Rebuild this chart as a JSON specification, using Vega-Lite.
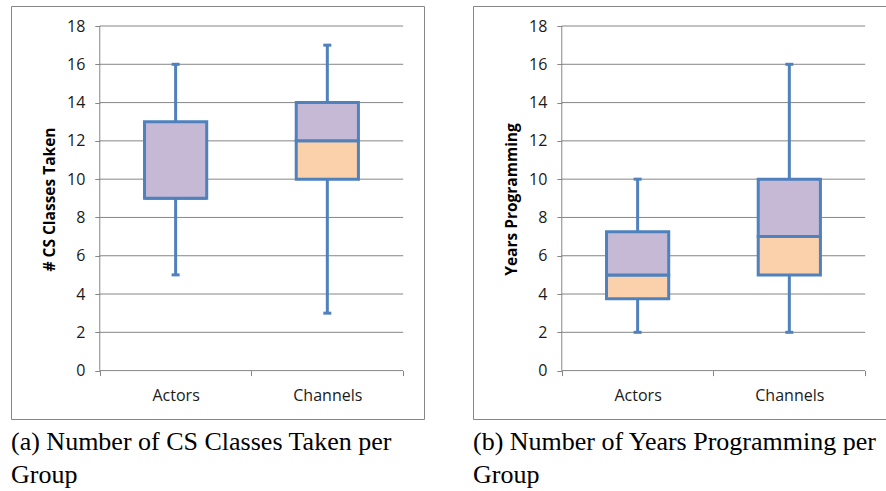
{
  "$schema": "https://vega.github.io/schema/vega-lite/v6.json",
  "padding": {"left": 10, "top": 5, "right": 0, "bottom": 0},
  "background": "white",
  "datasets": {
    "boxes": [
      {"panel": "a", "group": "Actors", "min": 5, "q1": 9, "median": 9, "q3": 13, "max": 16},
      {"panel": "a", "group": "Channels", "min": 3, "q1": 10, "median": 12, "q3": 14, "max": 17},
      {"panel": "b", "group": "Actors", "min": 2, "q1": 3.75, "median": 5, "q3": 7.25, "max": 10},
      {"panel": "b", "group": "Channels", "min": 2, "q1": 5, "median": 7, "q3": 10, "max": 16}
    ],
    "grid": [{"v": 0}, {"v": 2}, {"v": 4}, {"v": 6}, {"v": 8}, {"v": 10}, {"v": 12}, {"v": 14}, {"v": 16}, {"v": 18}]
  },
  "hconcat": [
    {
      "width": 413,
      "height": 413,
      "title": {"text": ["(a) Number of CS Classes Taken per", "Group"]},
      "encoding": {
        "x": {"field": "group", "type": "nominal", "sort": ["Actors", "Channels"],
          "scale": {"type": "band", "domain": ["Actors", "Channels"], "paddingInner": 0, "paddingOuter": 0.3612, "align": 0.81},
          "axis": {"title": null, "orient": "bottom", "offset": -48.4, "tickBand": "extent", "labelAngle": 0, "labelPadding": 12}}
      },
      "layer": [
        {"data": {"name": "grid"}, "mark": {"type": "rule", "color": "#868686", "strokeWidth": 1},
          "encoding": {
            "y": {"field": "v", "type": "quantitative", "scale": {"domain": [-2.528, 19.045], "nice": false, "zero": false},
              "axis": {"title": "# CS Classes Taken", "values": [0, 2, 4, 6, 8, 10, 12, 14, 16, 18], "offset": -88.8, "titleY": 193}},
            "x": {"datum": "Actors", "bandPosition": 0},
            "x2": {"datum": "Channels", "bandPosition": 1}
          }},
        {"data": {"name": "grid"}, "transform": [{"filter": "datum.v == 0"}], "mark": {"type": "rule", "color": "#868686", "strokeWidth": 1},
          "encoding": {
            "x": {"datum": "Actors", "bandPosition": 0},
            "y": {"datum": 0},
            "y2": {"datum": 18}
          }},
        {"data": {"name": "boxes"}, "transform": [{"filter": "datum.panel == 'a'"}],
          "layer": [
            {"mark": {"type": "rule", "color": "#4F81BD", "strokeWidth": 3}, "encoding": {"y": {"field": "min", "type": "quantitative"}, "y2": {"field": "q1"}}},
            {"mark": {"type": "rule", "color": "#4F81BD", "strokeWidth": 3}, "encoding": {"y": {"field": "q3", "type": "quantitative"}, "y2": {"field": "max"}}},
            {"mark": {"type": "tick", "color": "#4F81BD", "thickness": 3, "size": 8, "opacity": 1}, "encoding": {"y": {"field": "min", "type": "quantitative"}}},
            {"mark": {"type": "tick", "color": "#4F81BD", "thickness": 3, "size": 8, "opacity": 1}, "encoding": {"y": {"field": "max", "type": "quantitative"}}},
            {"mark": {"type": "bar", "fill": "#FBD1AB", "stroke": "#4F81BD", "strokeWidth": 3, "width": {"band": 0.41}}, "encoding": {"y": {"field": "q1", "type": "quantitative"}, "y2": {"field": "median"}}},
            {"mark": {"type": "bar", "fill": "#C6B9D5", "stroke": "#4F81BD", "strokeWidth": 3, "width": {"band": 0.41}}, "encoding": {"y": {"field": "median", "type": "quantitative"}, "y2": {"field": "q3"}}}
          ]}
      ]
    },
    {
      "width": 413,
      "height": 413,
      "title": {"text": ["(b) Number of Years Programming per", "Group"]},
      "encoding": {
        "x": {"field": "group", "type": "nominal", "sort": ["Actors", "Channels"],
          "scale": {"type": "band", "domain": ["Actors", "Channels"], "paddingInner": 0, "paddingOuter": 0.3612, "align": 0.81},
          "axis": {"title": null, "orient": "bottom", "offset": -48.4, "tickBand": "extent", "labelAngle": 0, "labelPadding": 12}}
      },
      "layer": [
        {"data": {"name": "grid"}, "mark": {"type": "rule", "color": "#868686", "strokeWidth": 1},
          "encoding": {
            "y": {"field": "v", "type": "quantitative", "scale": {"domain": [-2.528, 19.045], "nice": false, "zero": false},
              "axis": {"title": "Years Programming", "values": [0, 2, 4, 6, 8, 10, 12, 14, 16, 18], "offset": -88.8, "titleY": 193}},
            "x": {"datum": "Actors", "bandPosition": 0},
            "x2": {"datum": "Channels", "bandPosition": 1}
          }},
        {"data": {"name": "grid"}, "transform": [{"filter": "datum.v == 0"}], "mark": {"type": "rule", "color": "#868686", "strokeWidth": 1},
          "encoding": {
            "x": {"datum": "Actors", "bandPosition": 0},
            "y": {"datum": 0},
            "y2": {"datum": 18}
          }},
        {"data": {"name": "boxes"}, "transform": [{"filter": "datum.panel == 'b'"}],
          "layer": [
            {"mark": {"type": "rule", "color": "#4F81BD", "strokeWidth": 3}, "encoding": {"y": {"field": "min", "type": "quantitative"}, "y2": {"field": "q1"}}},
            {"mark": {"type": "rule", "color": "#4F81BD", "strokeWidth": 3}, "encoding": {"y": {"field": "q3", "type": "quantitative"}, "y2": {"field": "max"}}},
            {"mark": {"type": "tick", "color": "#4F81BD", "thickness": 3, "size": 8, "opacity": 1}, "encoding": {"y": {"field": "min", "type": "quantitative"}}},
            {"mark": {"type": "tick", "color": "#4F81BD", "thickness": 3, "size": 8, "opacity": 1}, "encoding": {"y": {"field": "max", "type": "quantitative"}}},
            {"mark": {"type": "bar", "fill": "#FBD1AB", "stroke": "#4F81BD", "strokeWidth": 3, "width": {"band": 0.41}}, "encoding": {"y": {"field": "q1", "type": "quantitative"}, "y2": {"field": "median"}}},
            {"mark": {"type": "bar", "fill": "#C6B9D5", "stroke": "#4F81BD", "strokeWidth": 3, "width": {"band": 0.41}}, "encoding": {"y": {"field": "median", "type": "quantitative"}, "y2": {"field": "q3"}}}
          ]}
      ]
    }
  ],
  "spacing": 47,
  "config": {
    "view": {"stroke": "#868686", "strokeWidth": 1},
    "axis": {
      "domain": false,
      "grid": false,
      "ticks": true,
      "tickColor": "#868686",
      "tickSize": 5,
      "labelFont": "Open Sans",
      "labelFontSize": 16,
      "labelColor": "#1a1a1a",
      "labelPadding": 10,
      "titleFont": "Open Sans",
      "titleFontSize": 15.5,
      "titleFontWeight": "bold",
      "titleColor": "#000000",
      "titlePadding": 9
    },
    "title": {
      "orient": "bottom",
      "anchor": "start",
      "font": "Liberation Serif",
      "fontSize": 26,
      "fontWeight": "normal",
      "color": "#000000",
      "lineHeight": 33,
      "offset": 10
    }
  }
}
